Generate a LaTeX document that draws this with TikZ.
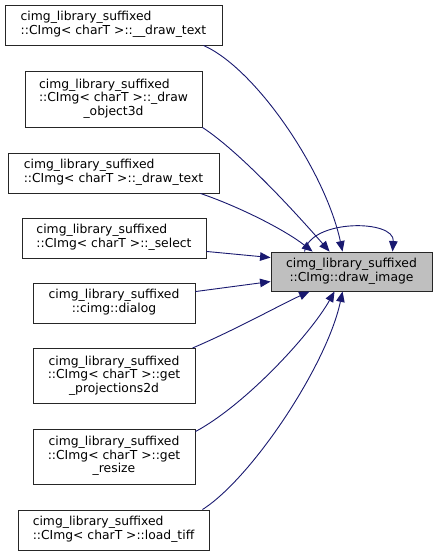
\documentclass[tikz,border=0pt]{standalone}
\usepackage{fontspec}
\setmainfont{DejaVu Sans}
\usetikzlibrary{arrows.meta,calc}
\definecolor{edgeblue}{HTML}{191970}
\definecolor{hlgray}{HTML}{BFBFBF}
% multi-line labels: left-aligned or centred lines
\newcommand{\lbox}[1]{\begin{tabular}{@{}l@{}}#1\end{tabular}}
\newcommand{\cbox}[1]{\begin{tabular}{@{}c@{}}#1\end{tabular}}
\begin{document}
\begin{tikzpicture}[x=1pt,y=-1pt,
  fn/.style={draw=black!85, line width=0.9pt, fill=white, inner sep=0pt,
    font=\fontsize{12.35}{13.6}\selectfont},
  cur/.style={fn, fill=hlgray},
  call/.style={draw=edgeblue, line width=0.9pt,
    -{Triangle[length=10.5pt,width=8.5pt]}}
]
\useasboundingbox[fill=white] (0,0) rectangle (437,556);

% callers
\node[fn, minimum width=217, minimum height=40] (b1) at (113.5,25)
  {\lbox{cimg\_library\_suffixed\\::CImg< charT >::\_\_draw\_text}};
\node[fn, minimum width=177, minimum height=56] (b2) at (113.5,99)
  {\lbox{cimg\_library\_suffixed\\::CImg< charT >::\_draw\\\multicolumn{1}{@{}c@{}}{\_object3d}}};
\node[fn, minimum width=211, minimum height=40] (b3) at (113.5,173)
  {\lbox{cimg\_library\_suffixed\\::CImg< charT >::\_draw\_text}};
\node[fn, minimum width=184, minimum height=40] (b4) at (114,238)
  {\lbox{cimg\_library\_suffixed\\::CImg< charT >::\_select}};
\node[fn, minimum width=162, minimum height=40] (b5) at (114,303)
  {\cbox{cimg\_library\_suffixed\\::cimg::dialog}};
\node[fn, minimum width=162, minimum height=55] (b6) at (114,376)
  {\cbox{cimg\_library\_suffixed\\::CImg< charT >::get\\\_projections2d}};
\node[fn, minimum width=162, minimum height=55] (b7) at (114,456.5)
  {\cbox{cimg\_library\_suffixed\\::CImg< charT >::get\\\_resize}};
\node[fn, minimum width=191, minimum height=40] (b8) at (113.5,530)
  {\lbox{cimg\_library\_suffixed\\::CImg< charT >::load\_tiff}};

% callee
\node[cur, minimum width=161, minimum height=39] (t) at (351.5,271.5)
  {\cbox{cimg\_library\_suffixed\\::CImg::draw\_image}};

% call edges
\draw[call] ($(b1.south east)+(-19,0)$) .. controls (255,68) and (325,170) .. ($(t.north west)+(72,0)$);
\draw[call] (b2.south east) .. controls (240,152) and (295,212) .. ($(t.north west)+(59,0)$);
\draw[call] ($(b3.south east)+(-19,0)$) .. controls (240,207) and (285,230) .. ($(t.north west)+(42,0)$);
\draw[call] ($(b4.south east)+(0,-7)$) -- ($(t.north west)+(0,6)$);
\draw[call] ($(b5.north east)+(0,9)$) -- ($(t.north west)+(0,30)$);
\draw[call] ($(b6.north east)+(-3,0)$) .. controls (235,330) and (280,305) .. ($(t.south west)+(39,0)$);
\draw[call] ($(b7.north east)+(0,3)$) .. controls (245,405) and (310,335) .. ($(t.south west)+(64,0)$);
\draw[call] ($(b8.north east)+(-7,0)$) .. controls (252,478) and (327,365) .. ($(t.south west)+(72,0)$);
% recursive call
\draw[call] ($(t.north west)+(34,0)$) .. controls (310,219) and (395,219) .. ($(t.north west)+(122,0)$);
\end{tikzpicture}
\end{document}
